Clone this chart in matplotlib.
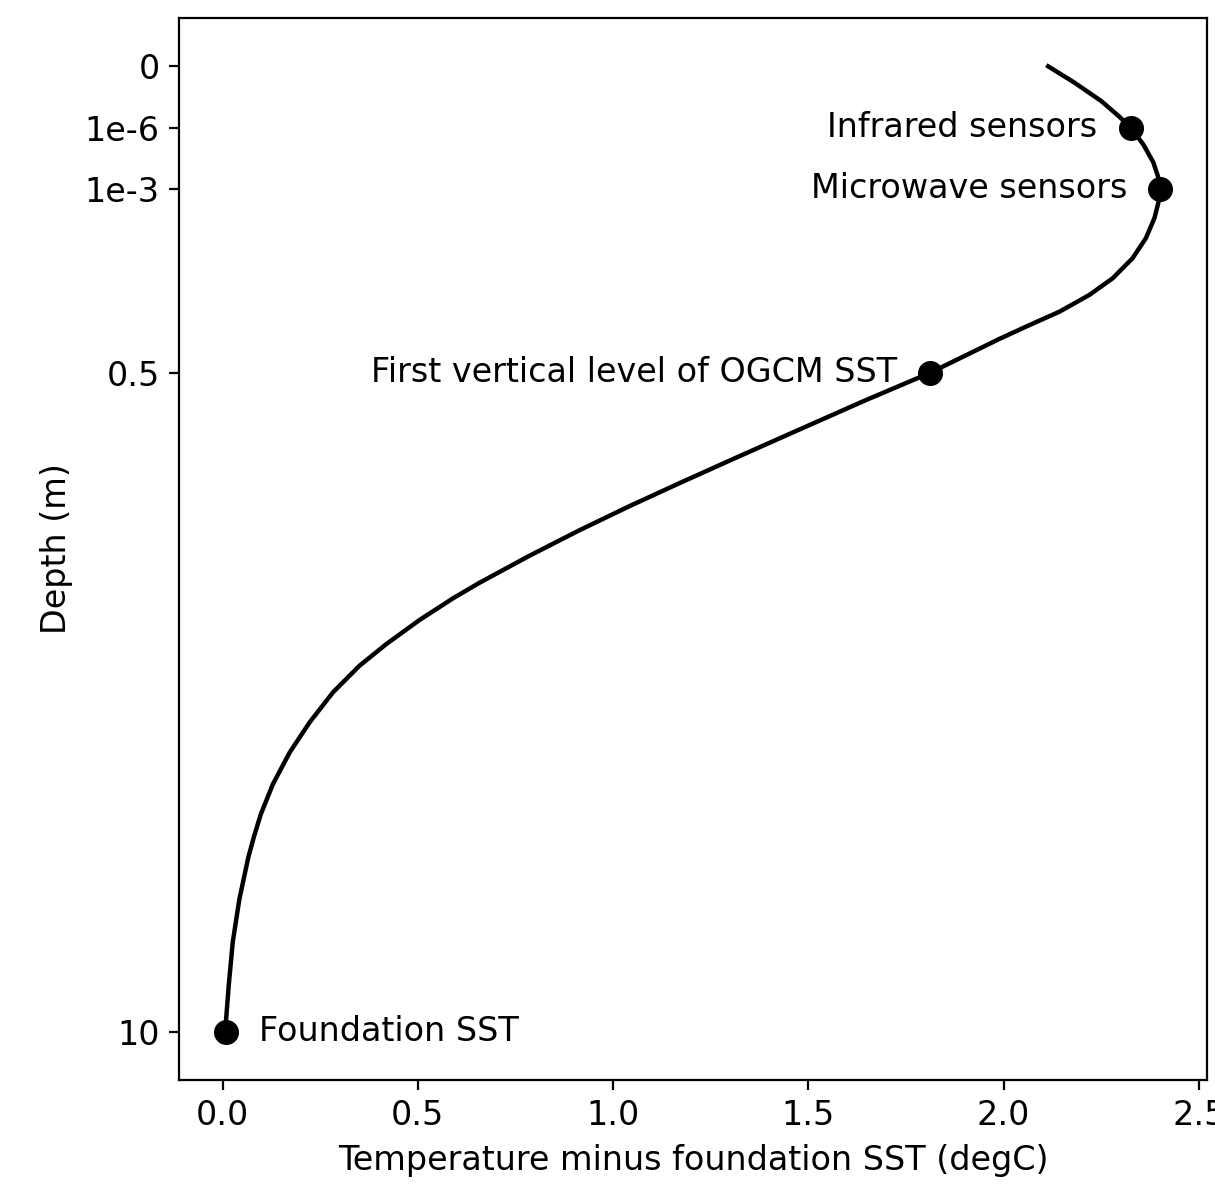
import matplotlib
matplotlib.use("Agg")
import matplotlib.pyplot as plt

plt.rcParams["font.size"] = 12

# Temperature anomaly profile (degC) vs. plotted depth coordinate
temp_curve = [2.114, 2.181, 2.250, 2.296, 2.325, 2.358, 2.383, 2.395, 2.401, 2.399,
              2.386, 2.364, 2.330, 2.279, 2.219, 2.143, 2.057, 1.989, 1.812, 1.648,
              1.477, 1.307, 1.170, 1.042, 0.914, 0.786, 0.658, 0.590, 0.505, 0.420,
              0.351, 0.283, 0.223, 0.172, 0.129, 0.098, 0.080, 0.066, 0.043, 0.026,
              0.016, 0.009, 0.008]
depth_curve = [0.0, 0.265, 0.567, 0.820, 1.0, 1.278, 1.564, 1.792, 2.0, 2.152,
               2.479, 2.806, 3.132, 3.459, 3.732, 4.003, 4.248, 4.448, 5.0, 5.444,
               5.926, 6.408, 6.801, 7.176, 7.569, 7.985, 8.426, 8.680, 9.031, 9.423,
               9.778, 10.212, 10.703, 11.193, 11.711, 12.201, 12.577, 12.904, 13.590, 14.292,
               14.979, 15.551, 15.752]

# Marked levels
point_labels = ["Infrared sensors", "Microwave sensors",
                "First vertical level of OGCM SST", "Foundation SST"]
point_temp = [2.325, 2.401, 1.812, 0.008]
point_depth = [1.0, 2.0, 5.0, 15.752]
label_side = ["left", "left", "left", "right"]

# Depth ticks
ytick_pos = [0.0, 1.0, 2.0, 5.0, 15.752]
ytick_labels = ["0", "1e-6", "1e-3", "0.5", "10"]

fig = plt.figure(figsize=(6.075, 5.94), dpi=200)
ax = fig.add_axes([0.1473, 0.0909, 0.8461, 0.8939])

ax.plot(temp_curve, depth_curve, color="black", linewidth=1.6)
ax.plot(point_temp, point_depth, "o", color="black", markersize=8)

for lab, xv, yv, side in zip(point_labels, point_temp, point_depth, label_side):
    if side == "left":
        ax.annotate(lab, (xv, yv), xytext=(-12, 0), textcoords="offset points",
                    ha="right", va="center")
    else:
        ax.annotate(lab, (xv, yv), xytext=(12, 0), textcoords="offset points",
                    ha="left", va="center")

ax.set_yticks(ytick_pos)
ax.set_yticklabels(ytick_labels)
ax.invert_yaxis()
ax.set_xlabel("Temperature minus foundation SST (degC)")
ax.set_ylabel("Depth (m)")

fig.savefig("out.png", dpi=200)
